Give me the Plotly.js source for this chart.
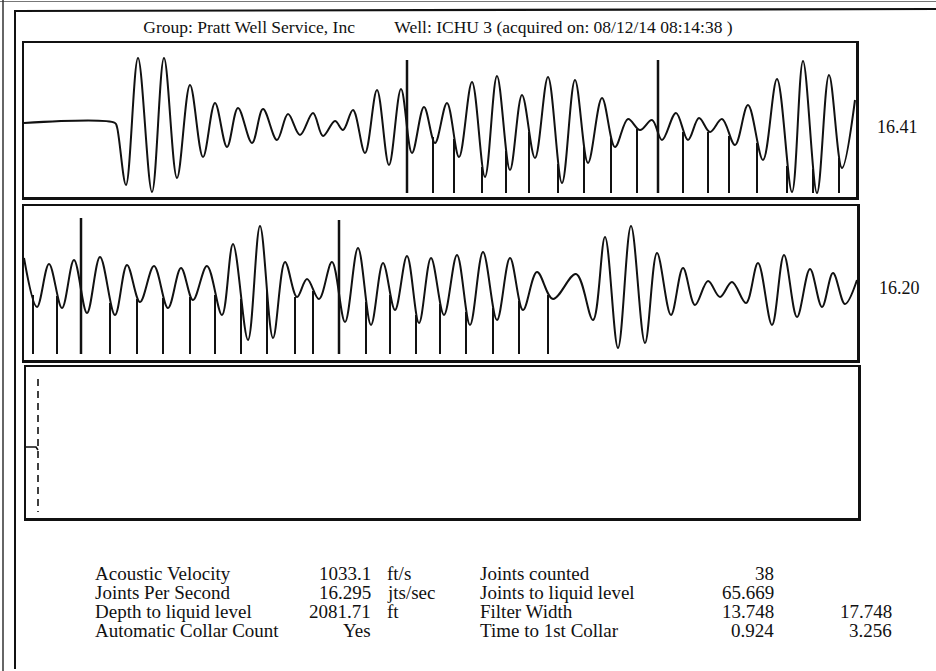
<!DOCTYPE html>
<html>
<head>
<meta charset="utf-8">
<script src="https://cdn.plot.ly/plotly-3.0.1.min.js"></script>
<style>html,body{margin:0;padding:0;background:#fff;}#chart{width:936px;height:671px;}</style>
</head>
<body>
<div id="chart"></div>
<script>
// ---- Data (time axis in trace units, amplitude relative to baseline) ----
const p1Time = [24,115,117,126,138,152,164,177,190,203,215,227,238,252,263,277,288,300,313,323,335,343,353,365,377,389,401,412,424,435,447,459,472,485,497,510,522,535,548,562,575,588,602,615,628,640,652,662,676,688,699,710,722,735,748,763,777,792,803,817,829,842,855];
const p1Amp  = [0,0,-4,-62,65,-69,65,-55,38,-34,20,-24,15,-20,14,-17,9,-12,10,-13,2,-7,13,-30,33,-42,34,-30,16,-20,20,-34,41,-54,47,-47,28,-35,46,-60,43,-40,25,-24,4,-7,3,-17,10,-17,5,-9,4,-22,18,-37,44,-69,62,-70,48,-45,23];
const p1CollarTime = [433,454,482,506,529,558,584,611,637,683,708,729,757,787,813,839];
const p1CollarTop  = [-14,-16,-44,-28,-9,-41,-24,-15,-6,-9,-9,-13,-20,-43,-46,-35];
const p1TallTime = [407,658];
const p1TallTop  = [63,63];
const p1CollarBottom = -70;

const p2Time = [24,37,49,62,74,87,100,115,127,140,154,168,181,193,207,222,233,248,260,273,285,297,307,319,332,345,358,371,383,395,407,419,431,444,457,470,483,497,510,523,537,553,576,593,605,618,631,645,657,671,683,695,708,720,732,746,758,772,784,797,810,822,833,845,857];
const p2Amp  = [25,-24,19,-25,23,-30,26,-32,18,-19,17,-25,15,-17,17,-32,39,-57,57,-55,21,-14,4,-16,21,-39,35,-42,20,-27,27,-40,25,-32,28,-42,31,-37,25,-27,11,-16,9,-37,46,-65,57,-60,30,-32,15,-22,2,-14,1,-20,20,-42,28,-34,14,-24,10,-21,3];
const p2CollarTime = [33,57,110,137,163,190,215,241,267,295,313,366,390,416,440,466,493,519,548];
const p2CollarTop  = [-12,-13,-20,-16,-15,-14,-12,-16,-8,-14,-8,-19,-12,-32,-21,-29,-25,-18,-12];
const p2TallTime = [81,339];
const p2TallTop  = [65,63];
const p2CollarBottom = -71;

const p3StepTime = [26,36,38];
const p3StepAmp  = [0,0,-3];
const p3DashTime = [38,38];
const p3DashAmp  = [68,-65];

const panelLabels = ["16.41","16.20"];

const titleText = "Group: Pratt Well Service, Inc&nbsp;&nbsp;&nbsp;&nbsp;&nbsp;&nbsp;&nbsp;&nbsp;&nbsp;Well: ICHU 3 (acquired on: 08/12/14 08:14:38 )";

const leftLabels  = ["Acoustic Velocity","Joints Per Second","Depth to liquid level","Automatic Collar Count"];
const leftValues  = ["1033.1","16.295","2081.71","Yes"];
const leftUnits   = ["ft/s","jts/sec","ft",""];
const rightLabels = ["Joints counted","Joints to liquid level","Filter Width","Time to 1st Collar"];
const rightValues = ["38","65.669","13.748","0.924"];
const extraValues = ["","","17.748","3.256"];

// ---- helpers ----
const W = 936, H = 671;
const px = x => x / W;
const py = y => 1 - y / H;
function segs(xs, tops, bottom) {
  const X = [], Y = [];
  xs.forEach((x, i) => { X.push(x, x, null); Y.push(tops[i], bottom, null); });
  return {X, Y};
}
const INK = '#111';
const FONT = 'Liberation Serif, Times New Roman, serif';

const c1 = segs(p1CollarTime, p1CollarTop, p1CollarBottom);
const t1 = segs(p1TallTime, p1TallTop, p1CollarBottom);
const c2 = segs(p2CollarTime, p2CollarTop, p2CollarBottom);
const t2 = segs(p2TallTime, p2TallTop, p2CollarBottom);

const traces = [
  {x: p1Time, y: p1Amp, xaxis:'x', yaxis:'y', mode:'lines', line:{color:INK, width:2, shape:'spline', smoothing:1}, hoverinfo:'skip'},
  {x: c1.X, y: c1.Y, xaxis:'x', yaxis:'y', mode:'lines', line:{color:INK, width:2}, hoverinfo:'skip'},
  {x: t1.X, y: t1.Y, xaxis:'x', yaxis:'y', mode:'lines', line:{color:INK, width:2.5}, hoverinfo:'skip'},
  {x: p2Time, y: p2Amp, xaxis:'x2', yaxis:'y2', mode:'lines', line:{color:INK, width:2, shape:'spline', smoothing:1}, hoverinfo:'skip'},
  {x: c2.X, y: c2.Y, xaxis:'x2', yaxis:'y2', mode:'lines', line:{color:INK, width:2}, hoverinfo:'skip'},
  {x: t2.X, y: t2.Y, xaxis:'x2', yaxis:'y2', mode:'lines', line:{color:INK, width:2.5}, hoverinfo:'skip'},
  {x: p3StepTime, y: p3StepAmp, xaxis:'x3', yaxis:'y3', mode:'lines', line:{color:INK, width:1.6}, hoverinfo:'skip'},
  {x: p3DashTime, y: p3DashAmp, xaxis:'x3', yaxis:'y3', mode:'lines', line:{color:INK, width:1.6, dash:'7px,5px'}, hoverinfo:'skip'}
];

const axBase = {showline:true, mirror:true, linewidth:2.5, linecolor:INK, showgrid:false, zeroline:false, showticklabels:false, ticks:'', fixedrange:true};

const annotations = [];
const labelY = [127, 288];
const labelX = [875, 877];
panelLabels.forEach((t, i) => annotations.push({xref:'paper', yref:'paper', x:px(labelX[i]), y:py(labelY[i]), xanchor:'left', yanchor:'middle', text:t, showarrow:false, font:{family:FONT, size:18, color:INK}}));
const rowY = [573, 592, 611, 630];
rowY.forEach((y, i) => {
  const f = {family:FONT, size:19, color:INK};
  annotations.push({xref:'paper', yref:'paper', x:px(93), y:py(y), xanchor:'left', yanchor:'middle', text:leftLabels[i], showarrow:false, font:f});
  annotations.push({xref:'paper', yref:'paper', x:px(373), y:py(y), xanchor:'right', yanchor:'middle', text:leftValues[i], showarrow:false, font:f});
  if (leftUnits[i]) annotations.push({xref:'paper', yref:'paper', x:px(385), y:py(y), xanchor:'left', yanchor:'middle', text:leftUnits[i], showarrow:false, font:f});
  annotations.push({xref:'paper', yref:'paper', x:px(478), y:py(y), xanchor:'left', yanchor:'middle', text:rightLabels[i], showarrow:false, font:f});
  annotations.push({xref:'paper', yref:'paper', x:px(776), y:py(y), xanchor:'right', yanchor:'middle', text:rightValues[i], showarrow:false, font:f});
  if (extraValues[i]) annotations.push({xref:'paper', yref:'paper', x:px(894), y:py(y), xanchor:'right', yanchor:'middle', text:extraValues[i], showarrow:false, font:f});
});

const shapes = [
  {type:'line', xref:'paper', yref:'paper', x0:px(15), x1:1, y0:py(11), y1:py(9), line:{color:INK, width:2.2}},
  {type:'line', xref:'paper', yref:'paper', x0:0, x1:1, y0:py(1.5), y1:py(1.5), line:{color:'#777', width:1}},
  {type:'line', xref:'paper', yref:'paper', x0:px(15), x1:px(15), y0:py(10), y1:py(669), line:{color:INK, width:2}},
  {type:'line', xref:'paper', yref:'paper', x0:px(3), x1:px(3), y0:py(0), y1:py(671), line:{color:'#333', width:1.5}}
];

const layout = {
  width: W, height: H,
  margin:{l:0, r:0, t:0, b:0},
  paper_bgcolor:'#fff', plot_bgcolor:'rgba(0,0,0,0)',
  showlegend:false,
  title:{text:titleText, x:px(438), y:py(27), xref:'paper', yref:'paper', xanchor:'center', yanchor:'middle', font:{family:FONT, size:17.5, color:INK}},
  xaxis: Object.assign({}, axBase, {domain:[px(24), px(856)], range:[24,856], anchor:'y'}),
  yaxis: Object.assign({}, axBase, {domain:[py(197), py(43)], range:[-74,80], anchor:'x'}),
  xaxis2: Object.assign({}, axBase, {domain:[px(24), px(857)], range:[24,857], anchor:'y2'}),
  yaxis2: Object.assign({}, axBase, {domain:[py(360), py(206)], range:[-77,77], anchor:'x2'}),
  xaxis3: Object.assign({}, axBase, {domain:[px(26), px(858)], range:[26,858], anchor:'y3'}),
  yaxis3: Object.assign({}, axBase, {domain:[py(518), py(367)], range:[-71,80], anchor:'x3'}),
  annotations, shapes
};

Plotly.newPlot('chart', traces, layout, {staticPlot:true, displayModeBar:false});
</script>
</body>
</html>
